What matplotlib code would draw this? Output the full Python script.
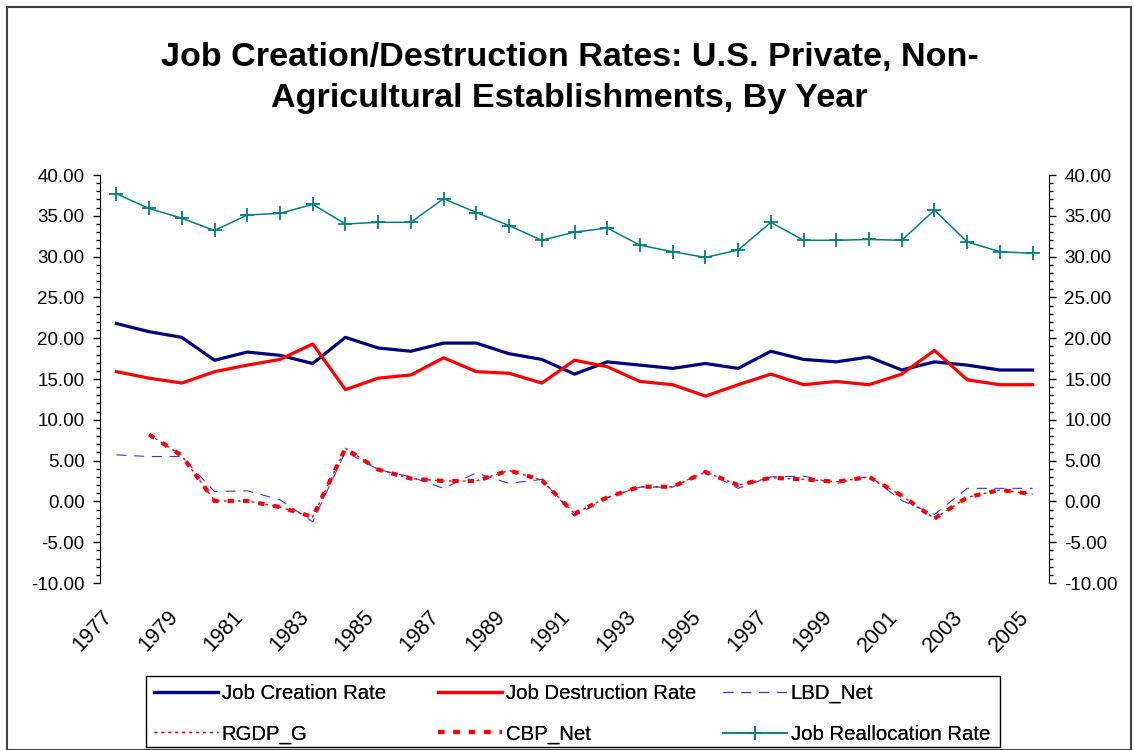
import matplotlib

matplotlib.use("Agg")
import matplotlib.pyplot as plt
import matplotlib.transforms as mtransforms
import numpy as np
from matplotlib.patches import Rectangle
from matplotlib.ticker import MultipleLocator, FormatStrFormatter

plt.rcParams["font.family"] = ["Liberation Sans", "DejaVu Sans"]

years = list(range(1977, 2006))

job_creation = [21.8, 20.8, 20.1, 17.3, 18.3, 17.9, 16.9, 20.1, 18.8, 18.4,
                19.4, 19.4, 18.1, 17.4, 15.6, 17.1, 16.7, 16.3, 16.9, 16.3,
                18.4, 17.4, 17.1, 17.7, 16.1, 17.1, 16.7, 16.1, 16.1]
job_destruction = [15.9, 15.1, 14.5, 15.9, 16.7, 17.4, 19.3, 13.7, 15.1, 15.5,
                   17.6, 15.9, 15.7, 14.5, 17.3, 16.5, 14.7, 14.3, 12.9, 14.3,
                   15.6, 14.3, 14.7, 14.3, 15.6, 18.5, 14.9, 14.3, 14.3]
lbd_net = [5.7, 5.5, 5.5, 1.2, 1.3, 0.2, -2.5, 6.1, 3.9, 3.0,
           1.6, 3.5, 2.2, 2.7, -1.8, 0.45, 1.75, 1.75, 3.7, 1.6,
           3.0, 3.1, 2.2, 3.1, 0.1, -1.6, 1.6, 1.6, 1.6]
rgdp_g = [np.nan, 8.2, 5.6, 0.05, 0.05, -0.7, -1.9, 6.5, 3.9, 2.8,
          2.5, 2.5, 3.8, 2.6, -1.5, 0.5, 1.8, 1.8, 3.6, 2.0,
          2.9, 2.7, 2.4, 3.0, 0.7, -2.1, 0.5, 1.4, 0.9]
cbp_net = [np.nan, 8.2, 5.6, 0.05, 0.05, -0.7, -1.9, 6.5, 3.9, 2.8,
           2.5, 2.5, 3.8, 2.6, -1.5, 0.5, 1.8, 1.8, 3.6, 2.0,
           2.9, 2.7, 2.4, 3.0, 0.7, -2.1, 0.5, 1.4, 0.9]
job_reallocation = [37.7, 35.9, 34.7, 33.2, 35.1, 35.3, 36.4, 34.0, 34.2, 34.2,
                    37.1, 35.4, 33.8, 32.0, 33.0, 33.5, 31.4, 30.6, 29.9, 30.8,
                    34.2, 32.0, 32.0, 32.1, 32.0, 35.7, 31.8, 30.6, 30.4]

W, H = 1135, 750
fig = plt.figure(figsize=(W / 100, H / 100), dpi=100)
ax = fig.add_axes([100 / W, 1 - 583 / H, 949 / W, 408 / H])

x = np.arange(len(years))
ax.plot(x, job_creation, color="#000080", lw=2.3, label="Job Creation Rate")
ax.plot(x, job_destruction, color="#FF0000", lw=2.3, label="Job Destruction Rate")
ax.plot(x, lbd_net, color="#3333FF", lw=0.8, ls=(0, (9, 7)), label="LBD_Net")
ax.plot(x, rgdp_g, color="#FF0000", lw=1.0, ls=(0, (2, 3)), label="RGDP_G")
ax.plot(x, cbp_net, color="#FF0000", lw=3.0, ls=(0, (1.5, 2.2)), label="CBP_Net")
ax.plot(x, job_reallocation, color="#008080", lw=1.1, marker="+", ms=10, mew=1.3,
        label="Job Reallocation Rate")

ax.set_xlim(-0.5, len(years) - 0.5)
ax.set_ylim(-10, 40)
ax.yaxis.set_major_locator(MultipleLocator(5))
ax.yaxis.set_minor_locator(MultipleLocator(1))
ax.yaxis.set_major_formatter(FormatStrFormatter("%.2f"))
ax.tick_params(axis="y", which="both", direction="out", left=True, right=True,
               labelleft=True, labelright=True, labelsize=13.5, width=1)
ax.tick_params(axis="y", which="major", length=5, pad=6)
ax.tick_params(axis="y", which="minor", length=3)
ax.set_xticks(x[::2])
ax.set_xticklabels([str(y) for y in years[::2]], rotation=47, ha="right",
                   rotation_mode="anchor", fontsize=15.5)
ax.tick_params(axis="x", length=0, pad=17)
shift = mtransforms.ScaledTranslation(-15 / 100, 0, fig.dpi_scale_trans)
for lbl in ax.get_xticklabels():
    lbl.set_transform(lbl.get_transform() + shift)
for s in ("top", "bottom"):
    ax.spines[s].set_visible(False)

fig.text(0.502, 1 - 78 / H,
         "Job Creation/Destruction Rates: U.S. Private, Non-\nAgricultural Establishments, By Year",
         ha="center", va="center", fontsize=24.6, fontweight="bold", linespacing=1.38)

# legend: three columns placed like the reference, filled row by row
handles, labels = ax.get_legend_handles_labels()
columns = [(146, [0, 3]), (430, [1, 4]), (715, [2, 5])]
for left, idx in columns:
    leg = fig.legend([handles[i] for i in idx], [labels[i] for i in idx],
                     loc="upper left", bbox_to_anchor=(left / W, 1 - 676 / H),
                     fontsize=14.7, frameon=False, handlelength=3.15, handletextpad=0.15,
                     borderaxespad=0, borderpad=0.4, labelspacing=1.05)
    fig.add_artist(leg)
fig.patches.append(Rectangle((146 / W, 3 / H), 854 / W, 71 / H, transform=fig.transFigure,
                             fill=False, edgecolor="black", lw=1.0))

fig.patches.append(Rectangle((7 / W, 0), 1124 / W, 1 - 7 / H, transform=fig.transFigure,
                             fill=False, edgecolor="#404040", lw=1.5))

fig.savefig("out.png", dpi=100)
